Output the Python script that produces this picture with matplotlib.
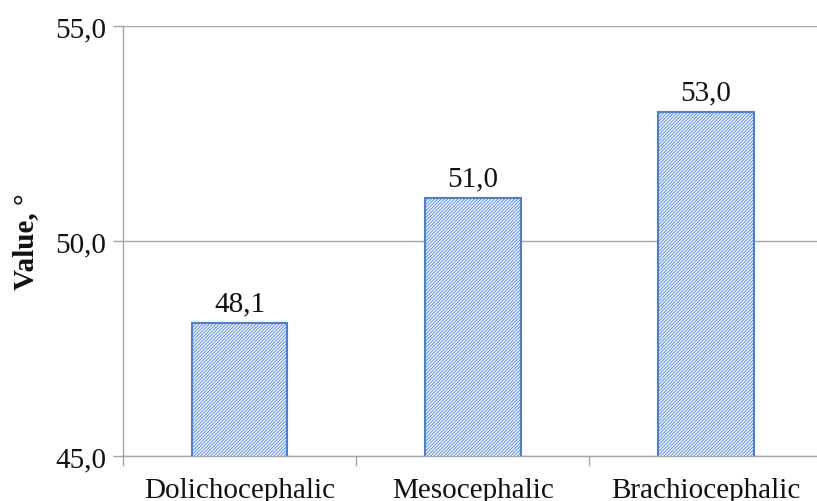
import matplotlib
matplotlib.use("Agg")
import matplotlib.pyplot as plt
from matplotlib.ticker import FixedLocator, FuncFormatter

# data
categories = ["Dolichocephalic", "Mesocephalic", "Brachiocephalic"]
values = [48.1, 51.0, 53.0]
y_ticks = [45.0, 50.0, 55.0]

BLUE = "#4a7fd4"
GREY = "#a6a6a6"
TEXT = "#111111"

plt.rcParams["font.family"] = ["Liberation Serif", "DejaVu Serif"]
plt.rcParams["hatch.color"] = "#6f9be0"
plt.rcParams["hatch.linewidth"] = 0.6


def comma(v, _pos=None):
    return f"{v:.1f}".replace(".", ",")


fig = plt.figure(figsize=(8.17, 5.02), dpi=100)
ax = fig.add_axes([0.1506, 0.0896, 0.856, 0.8566])

x = range(len(categories))
bars = ax.bar(x, values, width=0.41, bottom=0, color="#f4f8fd",
              edgecolor=BLUE, linewidth=1.5, hatch="//////////", zorder=3)

for xi, v in zip(x, values):
    ax.annotate(comma(v), (xi, v), xytext=(0, 9), textcoords="offset points",
                ha="center", va="baseline", fontsize=21, color=TEXT)

ax.set_xlim(-0.5, len(categories) - 0.5)
ax.set_ylim(y_ticks[0], y_ticks[-1])

# y axis
ax.yaxis.set_major_locator(FixedLocator(y_ticks))
ax.yaxis.set_major_formatter(FuncFormatter(comma))
ax.tick_params(axis="y", direction="out", length=7, width=1, color=GREY,
               pad=5, labelsize=21, labelcolor=TEXT)
ax.grid(axis="y", color=GREY, linewidth=1, zorder=0)

# x axis: labels at centres, tick marks at category boundaries
ax.set_xticks(list(x))
ax.set_xticklabels(categories)
ax.set_xticks([i + 0.5 for i in range(-1, len(categories))], minor=True)
ax.tick_params(axis="x", which="major", length=0, pad=15, labelsize=21,
               labelcolor=TEXT)
ax.tick_params(axis="x", which="minor", direction="out", length=7, width=1,
               color=GREY)

for side in ("top", "right"):
    ax.spines[side].set_visible(False)
for side in ("left", "bottom"):
    ax.spines[side].set_color(GREY)
    ax.spines[side].set_linewidth(1)

ax.set_ylabel("Value, °", fontsize=21, fontweight="bold", color=TEXT)
ax.yaxis.set_label_coords(-0.12, 0.5)

fig.savefig("out.png", dpi=100)
